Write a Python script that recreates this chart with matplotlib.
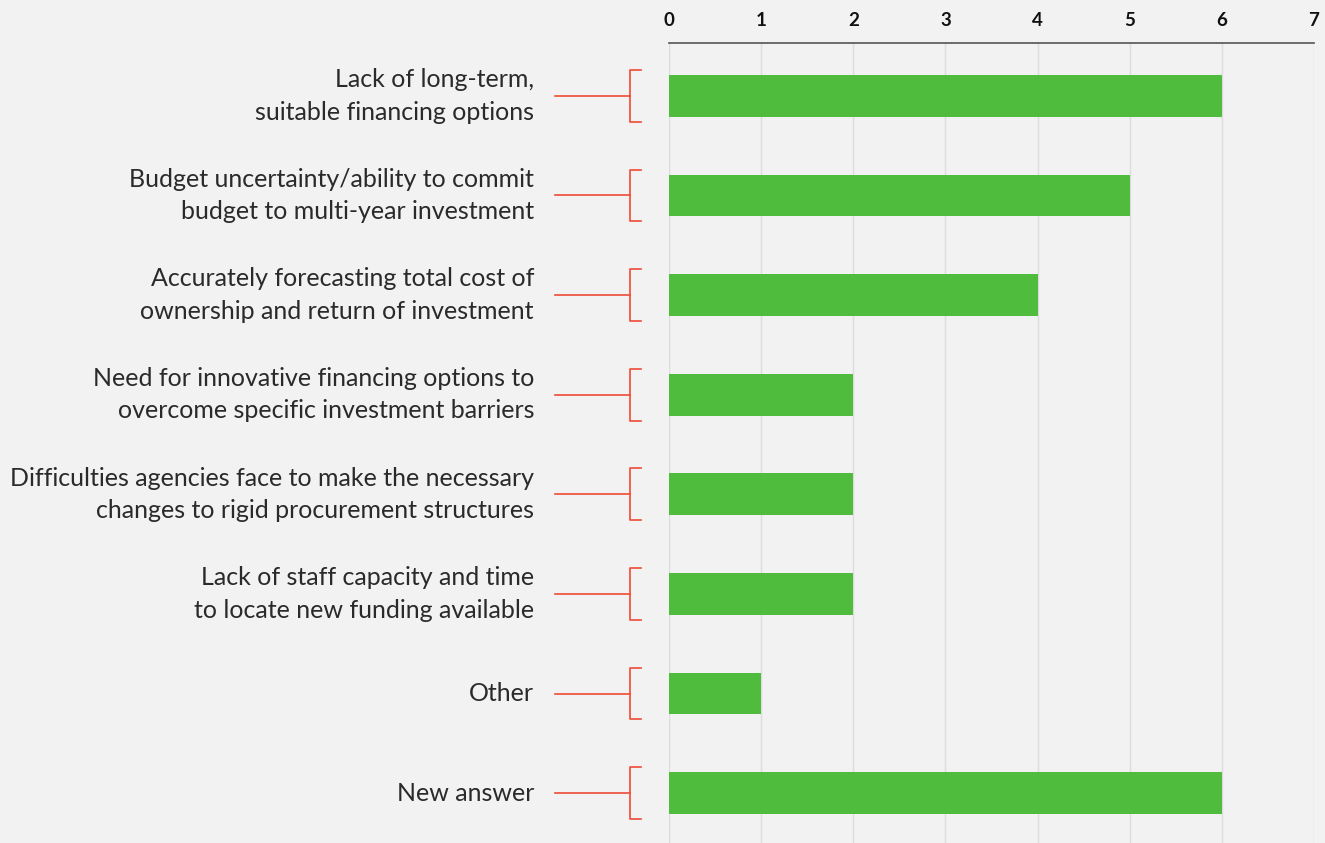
import matplotlib.pyplot as plt
from matplotlib.transforms import blended_transform_factory

# survey answers, top to bottom
labels = [
    "Lack of long-term,\nsuitable financing options",
    "Budget uncertainty/ability to commit\nbudget to multi-year investment",
    "Accurately forecasting total cost of\nownership and return of investment",
    "Need for innovative financing options to\novercome specific investment barriers",
    "Difficulties agencies face to make the necessary\nchanges to rigid procurement structures",
    "Lack of staff capacity and time\nto locate new funding available",
    "Other",
    "New answer",
]
counts = [6, 5, 4, 2, 2, 2, 1, 6]
ticks = [0, 1, 2, 3, 4, 5, 6, 7]

bg = "#f2f2f2"
green = "#50bc3d"
red = "#f04a35"

plt.rcParams['font.family'] = ['Lato', 'DejaVu Sans']

fig = plt.figure(figsize=(13.25, 8.43), dpi=100, facecolor=bg)
ax = fig.add_axes([669 / 1325, 0, (1314 - 669) / 1325, 1 - 43 / 843])
ax.set_facecolor(bg)

ypos = list(range(len(counts)))
ax.barh(ypos, counts, height=0.42, color=green, zorder=3)

ax.set_xlim(0, 7)
ax.set_ylim(len(counts) - 0.5, -0.53)
ax.set_xticks(ticks)
ax.xaxis.tick_top()
ax.tick_params(axis='x', length=0, pad=10, labelsize=13.5, labelcolor="#111111")
for t in ax.get_xticklabels():
    t.set_fontweight('bold')
ax.set_yticks([])
ax.grid(axis='x', color="#dcdcdc", linewidth=1, zorder=0)

for s in ['left', 'right', 'bottom']:
    ax.spines[s].set_visible(False)
ax.spines['top'].set_color("#555555")
ax.spines['top'].set_linewidth(1.2)

# labels and red brackets on the left
tr = blended_transform_factory(fig.transFigure, ax.transData)
x_txt = 534 / 1325
x_a = 555 / 1325
x_b = 630 / 1325
x_c = 641 / 1325
half = 0.26
for y, lab in zip(ypos, labels):
    ax.text(x_txt, y, lab, transform=tr, ha='right', va='center',
            fontsize=18, color="#2a2a2a", linespacing=1.5)
    ax.plot([x_a, x_b], [y, y], transform=tr, color=red, lw=1.2, clip_on=False)
    ax.plot([x_c, x_b, x_b, x_c], [y - half, y - half, y + half, y + half],
            transform=tr, color=red, lw=1.2, clip_on=False)

fig.savefig("out.png", dpi=100, facecolor=bg)
